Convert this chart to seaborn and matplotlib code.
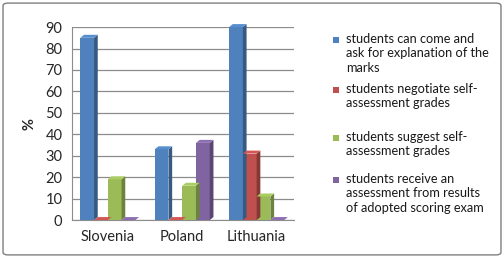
import matplotlib
matplotlib.use("Agg")
import matplotlib.pyplot as plt
import seaborn as sns
import pandas as pd
import numpy as np
from matplotlib.patches import Polygon, FancyBboxPatch, Rectangle
import matplotlib.colors as mcolors

countries = ["Slovenia", "Poland", "Lithuania"]
series = [
    "students can come and\nask for explanation of the\nmarks",
    "students negotiate self-\nassessment grades",
    "students suggest self-\nassessment grades",
    "students receive an\nassessment from results\nof adopted scoring exam",
]
can_come = [85, 33, 90]
negotiate = [0, 0, 31]
suggest = [19, 16, 11]
receive = [0, 36, 0]
colors = ["#4F81BD", "#C0504D", "#9BBB59", "#8064A2"]
yticks = [0, 10, 20, 30, 40, 50, 60, 70, 80, 90]

rows = []
for s, vals in zip(series, [can_come, negotiate, suggest, receive]):
    for c, v in zip(countries, vals):
        rows.append({"country": c, "series": s, "value": v})
df = pd.DataFrame(rows)

sns.set_style("white")
plt.rcParams["font.family"] = ["Lato", "DejaVu Sans"]

W, H = 504, 258
fig = plt.figure(figsize=(5.04, 2.58), dpi=100)
ax = fig.add_axes([0.143, 0.147, 0.44, 0.748])

sns.barplot(data=df, x="country", y="value", hue="series", palette=colors,
            width=0.74, saturation=1, ax=ax, legend=False, zorder=3,
            linewidth=0)

ax.set_ylim(0, 90)
ax.set_xlim(-0.48, 2.5)
ax.set_yticks(yticks)
ax.yaxis.grid(True, color="#8c8c8c", linewidth=0.9, zorder=0)
ax.set_axisbelow(True)
for sp in ["top", "right"]:
    ax.spines[sp].set_visible(False)
ax.spines["left"].set_color("#8c8c8c")
ax.spines["bottom"].set_color("#8c8c8c")
ax.tick_params(axis="y", length=4, color="#8c8c8c", labelsize=10.5, pad=3)
ax.tick_params(axis="x", length=0, labelsize=10.5, pad=7)
ax.set_xlabel("")
ax.set_ylabel("%", fontsize=10.5, fontweight="bold", labelpad=6)

# 3D-like depth faces derived from each bar's geometry
dx, dy = 0.05, 1.4
for cont, col in zip(ax.containers, colors):
    dark = np.array(mcolors.to_rgb(col)) * 0.7
    light = np.clip(np.array(mcolors.to_rgb(col)) * 1.1, 0, 1)
    for p in cont.patches:
        p.set_clip_on(False)
        x0 = p.get_x(); w = p.get_width(); h = p.get_height()
        side = Polygon([[x0 + w, 0], [x0 + w + dx, dy], [x0 + w + dx, h + dy], [x0 + w, h]],
                       closed=True, facecolor=dark, edgecolor="none", zorder=3, clip_on=False)
        top = Polygon([[x0, h], [x0 + dx, h + dy], [x0 + w + dx, h + dy], [x0 + w, h]],
                      closed=True, facecolor=light, edgecolor="none", zorder=3, clip_on=False)
        ax.add_patch(side)
        ax.add_patch(top)

# legend drawn manually: handle aligned with first text line
entry_tops = [40, 90, 138, 180]  # pixel y of first-line centres
for lab, col, yp in zip(series, colors, entry_tops):
    fig.patches.append(Rectangle((333 / W, 1 - (yp + 3) / H), 6 / W, 6 / H,
                                 transform=fig.transFigure, facecolor=col, edgecolor="none"))
    fig.text(346 / W, 1 - (yp - 7) / H, lab, fontsize=9.2, va="top", ha="left",
             linespacing=1.24, color="#1a1a1a")

border = FancyBboxPatch((0.006, 0.012), 0.988, 0.976, boxstyle="round,pad=0,rounding_size=0.01",
                        transform=fig.transFigure, facecolor="none", edgecolor="#7f7f7f",
                        linewidth=1.0)
fig.patches.append(border)

fig.savefig("out.png", dpi=100)
